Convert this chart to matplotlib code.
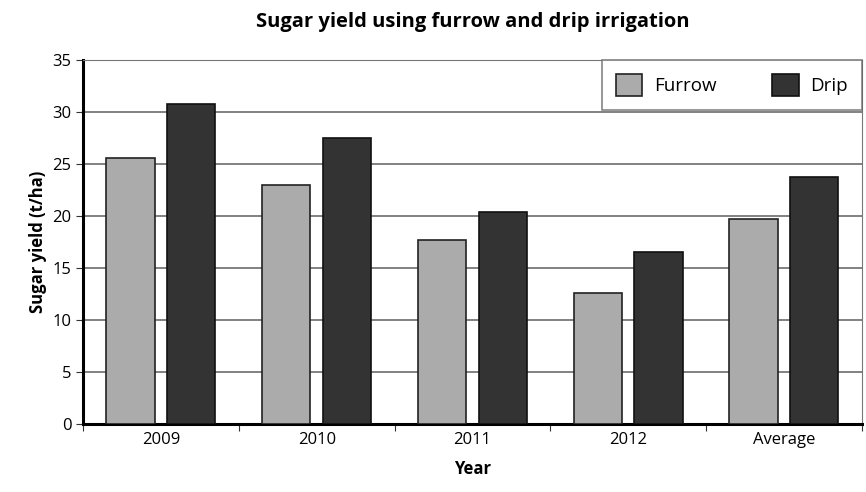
import matplotlib.pyplot as plt
import numpy as np

# sugar yield (t/ha) per year
years = ["2009", "2010", "2011", "2012", "Average"]
furrow = [25.6, 23.0, 17.7, 12.6, 19.7]
drip = [30.8, 27.5, 20.4, 16.5, 23.8]

plt.rcParams['font.family'] = ['Open Sans', 'DejaVu Sans']

fig = plt.figure(figsize=(8.66, 4.92), dpi=100)
ax = fig.add_axes([0.096, 0.138, 0.899, 0.74])

x = np.arange(len(years))
w = 0.31
ax.bar(x - 0.195, furrow, w, color='#ababab', edgecolor='#222222',
       linewidth=1.2, label='Furrow', zorder=3)
ax.bar(x + 0.195, drip, w, color='#333333', edgecolor='#111111',
       linewidth=1.2, label='Drip', zorder=3)

ax.set_xlim(-0.5, len(years) - 0.5)
ax.set_ylim(0, 35)
ax.set_yticks(range(0, 36, 5))
ax.yaxis.grid(True, color='#777777', linewidth=1.3, zorder=0)

# category ticks sit between the groups, labels in the middle
ax.set_xticks(np.arange(-0.5, len(years), 1.0))
ax.set_xticklabels([])
ax.set_xticks(x, minor=True)
ax.set_xticklabels(years, minor=True, fontsize=12)
ax.tick_params(axis='x', which='minor', length=0, pad=6)
ax.tick_params(axis='x', which='major', length=5, color='#333333')
ax.tick_params(axis='y', length=5, labelsize=12, color='#333333')

for s in ['left', 'bottom']:
    ax.spines[s].set_linewidth(2.2)
ax.spines['top'].set_color('#777777')
ax.spines['right'].set_color('#777777')

ax.set_title("Sugar yield using furrow and drip irrigation",
             fontsize=14.5, fontweight='bold', pad=24)
ax.set_ylabel("Sugar yield (t/ha)", fontsize=12, fontweight='bold')
ax.set_xlabel("Year", fontsize=12, fontweight='bold', labelpad=8)

leg = ax.legend(loc='upper right', ncol=2, fontsize=13.5, frameon=True,
                fancybox=False, borderaxespad=0, handlelength=1.4,
                handleheight=1.4, handletextpad=0.6, columnspacing=3.0,
                borderpad=0.75)
leg.get_frame().set_edgecolor('#666666')
leg.get_frame().set_linewidth(1.2)

fig.savefig("out.png", dpi=100)
